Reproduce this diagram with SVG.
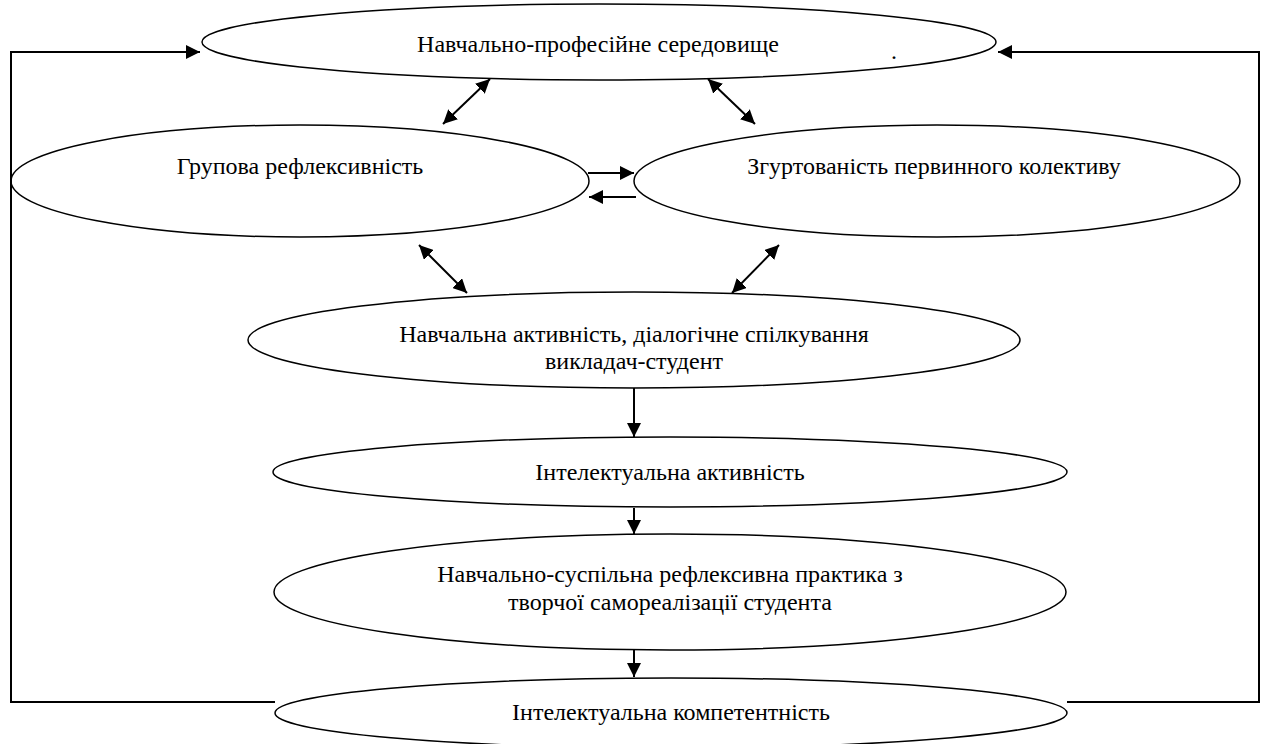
<svg xmlns="http://www.w3.org/2000/svg" width="1264" height="744" viewBox="0 0 1264 744">
<style>
.n{fill:#fff;stroke:#000;stroke-width:1.5}
.t{font-family:"Liberation Serif","Times New Roman",serif;font-size:24px;fill:#000;text-anchor:middle}
.c{fill:none;stroke:#000;stroke-width:2}
</style>
<defs>
<marker id="ah" viewBox="0 0 10 10" refX="10" refY="5" markerWidth="7" markerHeight="7" orient="auto-start-reverse" markerUnits="strokeWidth">
<path d="M0,0 L10,5 L0,10 z" fill="#000"/>
</marker>
</defs>
<rect width="1264" height="744" fill="#fff"/>
<g id="n1"><ellipse class="n" cx="599" cy="42" rx="397" ry="38"/><text class="t" x="598" y="52">Навчально-професійне середовище</text><text class="t" x="894" y="59">.</text></g>
<g id="n2"><ellipse class="n" cx="300" cy="181" rx="289" ry="56"/><text class="t" x="300" y="174">Групова рефлексивність</text></g>
<g id="n3"><ellipse class="n" cx="937" cy="181" rx="303" ry="56"/><text class="t" x="934" y="174">Згуртованість первинного колективу</text></g>
<g id="n4"><ellipse class="n" cx="634" cy="340" rx="386" ry="48"/><text class="t" x="634" y="342">Навчальна активність, діалогічне спілкування</text><text class="t" x="634" y="369">викладач-студент</text></g>
<g id="n5"><ellipse class="n" cx="670" cy="472" rx="397" ry="35"/><text class="t" x="670" y="480">Інтелектуальна активність</text></g>
<g id="n6"><ellipse class="n" cx="670" cy="592" rx="396" ry="58"/><text class="t" x="670" y="582">Навчально-суспільна рефлексивна практика з</text><text class="t" x="670" y="610">творчої самореалізації студента</text></g>
<g id="n7"><ellipse class="n" cx="671" cy="713" rx="396" ry="35"/><text class="t" x="671" y="720">Інтелектуальна компетентність</text></g>
<g id="connectors">
<polyline class="c" points="275,702 11,702 11,52 200,52" marker-end="url(#ah)"/>
<polyline class="c" points="1067,702 1259,702 1259,52 998,52" marker-end="url(#ah)"/>
<line class="c" x1="588" y1="173" x2="634" y2="173" marker-end="url(#ah)"/>
<line class="c" x1="636" y1="197" x2="589" y2="197" marker-end="url(#ah)"/>
<line class="c" x1="443" y1="124" x2="490" y2="79" marker-start="url(#ah)" marker-end="url(#ah)"/>
<line class="c" x1="708" y1="79" x2="755" y2="124" marker-start="url(#ah)" marker-end="url(#ah)"/>
<line class="c" x1="419" y1="245" x2="467" y2="293" marker-start="url(#ah)" marker-end="url(#ah)"/>
<line class="c" x1="732" y1="293" x2="779" y2="245" marker-start="url(#ah)" marker-end="url(#ah)"/>
<line class="c" x1="634" y1="388" x2="634" y2="437" marker-end="url(#ah)"/>
<line class="c" x1="634" y1="508" x2="634" y2="534" marker-end="url(#ah)"/>
<line class="c" x1="634" y1="650" x2="634" y2="677" marker-end="url(#ah)"/>
</g>
</svg>
